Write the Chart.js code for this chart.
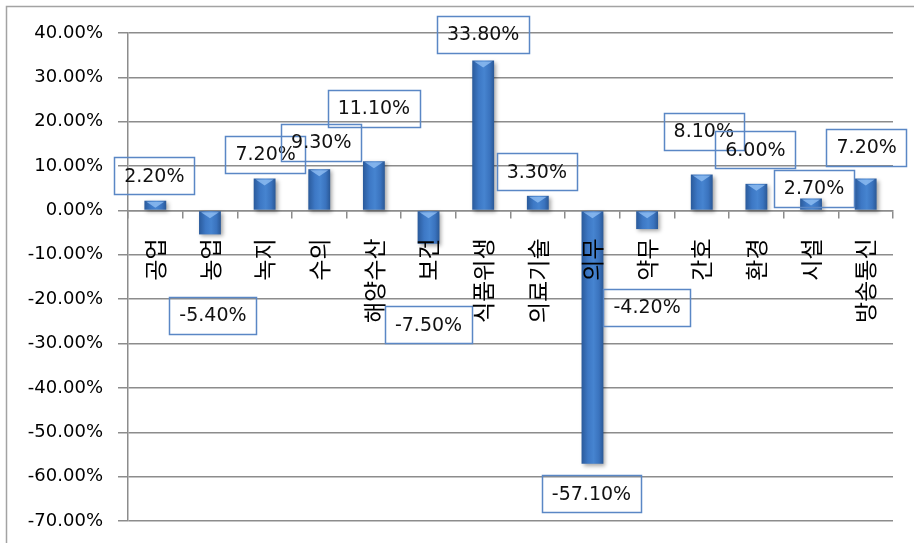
<!DOCTYPE html>
<html>
<head>
<meta charset="utf-8">
<script src="https://cdn.jsdelivr.net/npm/chart.js@4.4.0/dist/chart.umd.min.js"></script>
<style>
    html, body { margin: 0; padding: 0; background: #fff; }
    #wrap { width: 914px; height: 543px; position: relative; }
</style>
</head>
<body>
<div id="wrap"><canvas id="rateChart"></canvas></div>
<script>
// categories and values (%)
let categories = ['공업', '농업', '녹지', '수의', '해양수산', '보건', '식품위생', '의료기술', '의무', '약무', '간호', '환경', '시설', '방송통신'];
let rates = [2.2, -5.4, 7.2, 9.3, 11.1, -7.5, 33.8, 3.3, -57.1, -4.2, 8.1, 6.0, 2.7, 7.2];
let yMin = -70, yMax = 40, yStep = 10;

// where the label boxes sit, relative to the end of each bar (px)
let labelShiftX = [-1, 3, 1, 2, 0, 0, 0, -1, -1, 0, 2, -1, 3, 1];
let labelShiftY = [-25, 81, -24, -27, -53, 81, -26, -24, 30, 78, -43, -34, -10, -31];

const gridColor = '#8c8c8c';

function pct(v) {
    return v.toFixed(2) + '%';
}

// horizontal gradient for the cylinder-ish bars
function barFill(context) {
    const chart = context.chart;
    const area = chart.chartArea;
    if (!area) return '#3c76c2';
    const x = chart.scales.x.getPixelForValue(context.dataIndex);
    const half = (area.width / categories.length) * 0.4 / 2;
    const g = chart.ctx.createLinearGradient(x - half, 0, x + half, 0);
    g.addColorStop(0, '#2a5a9b');
    g.addColorStop(0.3, '#3d78c5');
    g.addColorStop(0.55, '#4684d0');
    g.addColorStop(0.8, '#3a73be');
    g.addColorStop(1, '#2a5896');
    return g;
}

// soft shadow under the bars
const barShadow = {
    id: 'barShadow',
    beforeDatasetDraw(chart) {
        const ctx = chart.ctx;
        ctx.save();
        ctx.shadowColor = 'rgba(0,0,0,0.35)';
        ctx.shadowBlur = 4;
        ctx.shadowOffsetX = 2;
        ctx.shadowOffsetY = 2;
    },
    afterDatasetDraw(chart) {
        chart.ctx.restore();
    }
};

// top bevel highlight + boxed value labels
const valueBoxes = {
    id: 'valueBoxes',
    afterDatasetsDraw(chart) {
        const ctx = chart.ctx;
        const bars = chart.getDatasetMeta(0).data;
        ctx.save();
        bars.forEach((bar, i) => {
            const top = Math.min(bar.y, bar.base);
            const left = bar.x - bar.width / 2;
            const right = bar.x + bar.width / 2;
            ctx.fillStyle = 'rgba(150,195,245,0.75)';
            ctx.beginPath();
            ctx.moveTo(left + 2, top + 1);
            ctx.lineTo(right - 2, top + 1);
            ctx.lineTo(bar.x, top + 7);
            ctx.closePath();
            ctx.fill();
        });
        ctx.font = '19px "DejaVu Sans"';
        ctx.textAlign = 'center';
        ctx.textBaseline = 'middle';
        bars.forEach((bar, i) => {
            const text = pct(rates[i]);
            const cx = bar.x + labelShiftX[i];
            const cy = bar.y + labelShiftY[i];
            const w = ctx.measureText(text).width + 20;
            const h = 37;
            ctx.strokeStyle = '#5a87c5';
            ctx.lineWidth = 1.5;
            ctx.strokeRect(Math.round(cx - w / 2) + 0.5, Math.round(cy - h / 2) + 0.5, Math.round(w), h);
            ctx.fillStyle = '#111';
            ctx.fillText(text, cx, cy + 1);
        });
        ctx.restore();
    }
};

// outer frame of the picture
const frame = {
    id: 'frame',
    beforeDraw(chart) {
        const ctx = chart.ctx;
        ctx.save();
        ctx.strokeStyle = '#a3a3a3';
        ctx.lineWidth = 1.5;
        ctx.beginPath();
        ctx.moveTo(6.5, chart.height);
        ctx.lineTo(6.5, 6.5);
        ctx.lineTo(chart.width, 6.5);
        ctx.stroke();
        ctx.restore();
    }
};

var ctx = document.getElementById('rateChart').getContext('2d');
var chart = new Chart(ctx, {
    type: 'bar',
    data: {
        labels: categories,
        datasets: [{
            data: rates,
            backgroundColor: barFill,
            borderWidth: 0,
            barPercentage: 0.4,
            categoryPercentage: 1.0
        }]
    },
    options: {
        responsive: true,
        maintainAspectRatio: false,
        animation: false,
        layout: {
            padding: { top: 33, right: 21, bottom: 22, left: 0 }
        },
        plugins: {
            legend: { display: false },
            tooltip: { enabled: false }
        },
        scales: {
            x: {
                position: { y: 0 },
                afterFit(scale) {
                    scale.paddingTop = 0;
                    scale.paddingBottom = 0;
                    scale.paddingLeft = 0;
                    scale.paddingRight = 0;
                },
                grid: {
                    drawOnChartArea: false,
                    offset: true,
                    tickLength: 7,
                    color: gridColor,
                    lineWidth: 1.5
                },
                border: { display: true, color: gridColor, width: 1.5 },
                ticks: {
                    z: 1, // category names sit on top of the bars
                    autoSkip: false,
                    minRotation: 90,
                    maxRotation: 90,
                    padding: 21,
                    color: '#000',
                    font: { family: '"Noto Sans CJK KR"', size: 23 }
                }
            },
            y: {
                min: yMin,
                max: yMax,
                afterFit(scale) {
                    scale.width = 128;
                    scale.paddingTop = 0;
                    scale.paddingBottom = 0;
                },
                grid: {
                    color: gridColor,
                    lineWidth: 1.5,
                    tickLength: 10
                },
                border: { display: true, color: gridColor, width: 1.5 },
                ticks: {
                    stepSize: yStep,
                    padding: 15,
                    color: '#000',
                    font: { family: '"DejaVu Sans"', size: 18 },
                    callback: function (v) { return pct(v); }
                }
            }
        }
    },
    plugins: [frame, barShadow, valueBoxes]
});
</script>
</body>
</html>
